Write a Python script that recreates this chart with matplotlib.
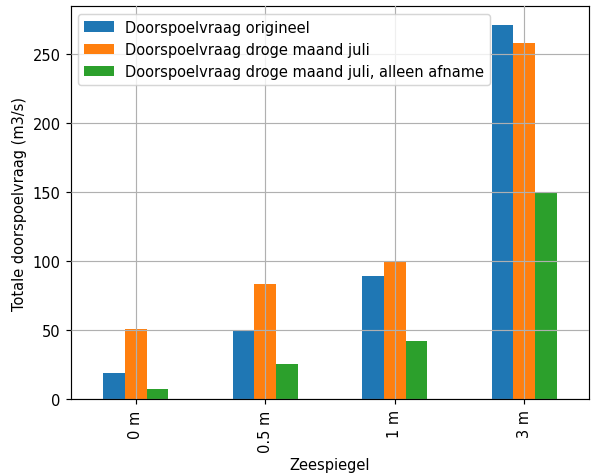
import matplotlib
matplotlib.use("Agg")
import matplotlib.pyplot as plt
import pandas as pd

categories = ["0 m", "0.5 m", "1 m", "3 m"]
origineel = [19, 50, 89, 271]
droge_juli = [51, 83.5, 100, 258]
alleen_afname = [7, 25.5, 42, 150]

df = pd.DataFrame({
    "Doorspoelvraag origineel": origineel,
    "Doorspoelvraag droge maand juli": droge_juli,
    "Doorspoelvraag droge maand juli, alleen afname": alleen_afname,
}, index=categories)

DPI = 105.6
fig, ax = plt.subplots(figsize=(591 / DPI, 475 / DPI), dpi=DPI)
df.plot.bar(ax=ax)
ax.grid(True)
ax.set_axisbelow(False)
ax.set_xlabel("Zeespiegel")
ax.set_ylabel("Totale doorspoelvraag (m3/s)")
ax.legend(loc="upper left")
fig.subplots_adjust(left=0.1201, right=0.9966, top=0.9846, bottom=0.1579)
fig.savefig("out.png", dpi=DPI)
